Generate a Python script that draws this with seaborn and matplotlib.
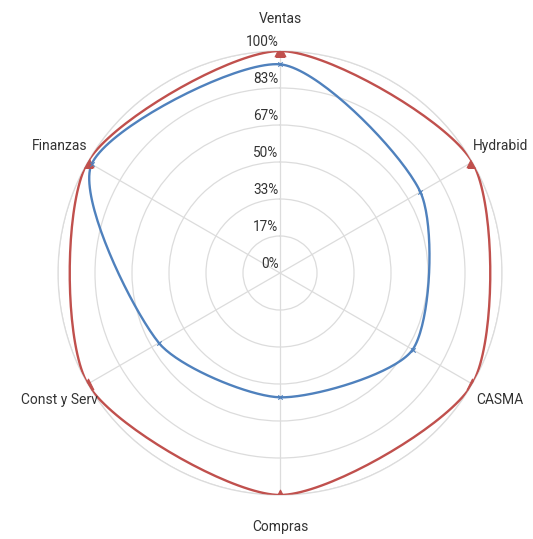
import numpy as np
import matplotlib
matplotlib.use("Agg")
import matplotlib.pyplot as plt
import seaborn as sns

# ----------------- Data -----------------
categories = ["Ventas", "Hydrabid", "CASMA", "Compras", "Const y Serv", "Finanzas"]
meta = [100, 100, 100, 100, 100, 100]
actual = [94, 73, 69, 56, 63, 98]
ring_values = [0, 1 / 6, 2 / 6, 3 / 6, 4 / 6, 5 / 6, 1]
ring_labels = ["0%", "17%", "33%", "50%", "67%", "83%", "100%"]

RED = "#c0504d"
BLUE = "#4f81bd"
GRID = "#dcdcdc"
TEXT = "#333333"
TENSION = 0.25


def smooth_closed(angles, radii, steps=40):
    # closed bezier curve with tension through the points (x/y space), back to polar
    pts = np.column_stack([radii * np.cos(angles), radii * np.sin(angles)])
    n = len(pts)
    cp_in, cp_out = [], []
    for i in range(n):
        prev, cur, nxt = pts[i - 1], pts[i], pts[(i + 1) % n]
        d01 = np.hypot(*(cur - prev))
        d12 = np.hypot(*(nxt - cur))
        s01 = d01 / (d01 + d12)
        s12 = d12 / (d01 + d12)
        cp_in.append(cur - TENSION * s01 * (nxt - prev))
        cp_out.append(cur + TENSION * s12 * (nxt - prev))
    t = np.linspace(0, 1, steps, endpoint=False)[:, None]
    out = []
    for i in range(n):
        j = (i + 1) % n
        p0, p1, p2, p3 = pts[i], cp_out[i], cp_in[j], pts[j]
        seg = ((1 - t) ** 3 * p0 + 3 * (1 - t) ** 2 * t * p1
               + 3 * (1 - t) * t ** 2 * p2 + t ** 3 * p3)
        out.append(seg)
    out.append(pts[:1])
    out = np.vstack(out)
    return np.arctan2(out[:, 1], out[:, 0]), np.hypot(out[:, 0], out[:, 1])


sns.set_style("white")
plt.rcParams["font.family"] = ["Roboto", "DejaVu Sans"]

fig = plt.figure(figsize=(5.33, 5.39), dpi=100)
ax = fig.add_axes([58 / 533, (539 - 273 - 222) / 539, 444 / 533, 444 / 539], projection="polar")
ax.set_theta_zero_location("N")
ax.set_theta_direction(-1)

theta = np.linspace(0, 2 * np.pi, len(categories), endpoint=False)

ax.set_ylim(0, 1)
ax.set_yticks(ring_values)
ax.set_yticklabels([])
ax.set_xticks(theta)
ax.set_xticklabels([])
ax.grid(True, color=GRID, linewidth=0.9)
ax.spines["polar"].set_color(GRID)
ax.spines["polar"].set_linewidth(0.9)

for series, color, marker, msize in [(meta, RED, "^", 60), (actual, BLUE, "x", 10)]:
    r = np.array(series) / 100
    th, rr = smooth_closed(theta, r)
    sns.lineplot(x=th, y=rr, sort=False, estimator=None, color=color,
                 linewidth=1.7, ax=ax, zorder=3)
    sns.scatterplot(x=theta, y=r, marker=marker, s=msize, color=color,
                    edgecolor=color, linewidth=0.8, ax=ax, zorder=4)

ax.set_xlabel("")
ax.set_ylabel("")
ax.set_ylim(0, 1)

for val, lab in zip(ring_values, ring_labels):
    ax.annotate(lab, xy=(0, val), xytext=(-1, 1.5), textcoords="offset points",
                ha="right", va="bottom", fontsize=9.8, color=TEXT,
                annotation_clip=False, zorder=5)

for ang, lab in zip(theta, categories):
    ax.text(ang, 1.145, lab, ha="center", va="center", fontsize=10,
            color=TEXT, clip_on=False)

fig.savefig("out.png", dpi=100, facecolor="white")
